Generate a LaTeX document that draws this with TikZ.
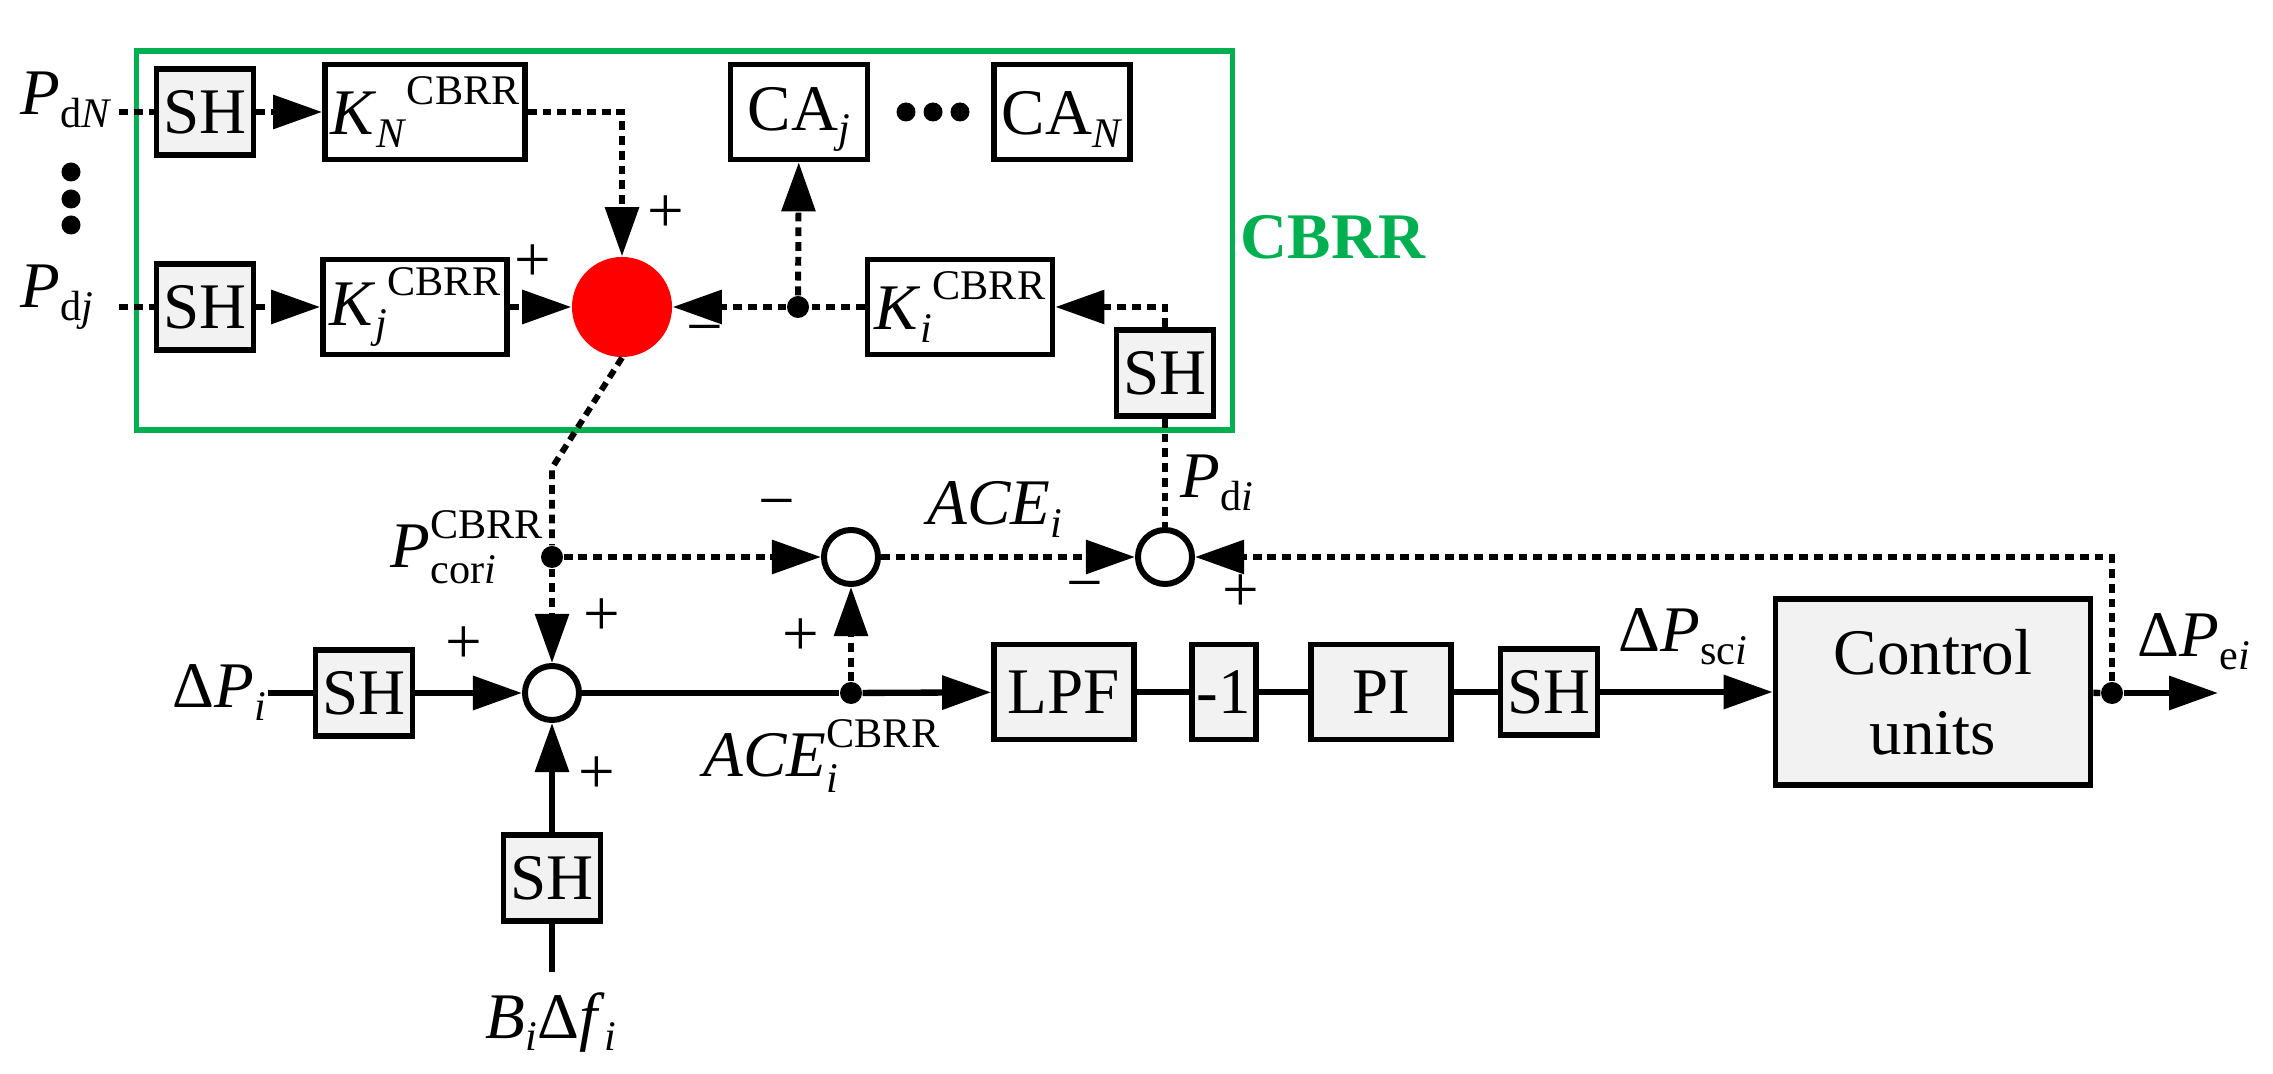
\documentclass[tikz,border=0pt]{standalone}
\usepackage{fontspec}
\setmainfont{Liberation Serif}
\usetikzlibrary{arrows.meta}
\definecolor{boxgray}{HTML}{F2F2F2}
\definecolor{cbgreen}{HTML}{00B050}
\newcommand\fs{\fontsize{18.5}{20}\selectfont}
\newcommand\sfs{\fontsize{12}{12}\selectfont}
\newcommand\Sb[1]{\raisebox{-3.5pt}{\sfs #1}}
\newcommand\Sp[1]{\raisebox{8.5pt}{\sfs #1}}
\newcommand\SbSp[2]{\rlap{\raisebox{-4.5pt}{\sfs #1}}\raisebox{8.5pt}{\sfs #2}}
\tikzset{
  every node/.style={font=\fs},
  blk/.style={draw, line width=1.6pt, inner sep=0pt, minimum height=0.95cm},
  shblk/.style={blk, fill=boxgray, minimum width=0.97cm, minimum height=0.86cm},
  gblk/.style={blk, fill=boxgray},
  sumc/.style={circle, draw, line width=1.7pt, minimum size=0.54cm, inner sep=0pt},
  jdot/.style={circle, fill, inner sep=0pt, minimum size=0.22cm},
  sdot/.style={circle, fill, inner sep=0pt, minimum size=0.19cm},
  sig/.style={inner sep=0pt},
  lbl/.style={inner sep=0pt},
  dl/.style={line width=1.7pt, dash pattern=on 2.5pt off 1.7pt},
  sl/.style={line width=1.8pt},
  tip/.style={-{Triangle[length=0.49cm,width=0.33cm]}}
}
\begin{document}
\begin{tikzpicture}[x=0.01cm,y=-0.01cm]
\useasboundingbox (0,0) rectangle (2273,1074);
% CBRR frame
\node[draw=cbgreen, line width=1.6pt, minimum width=10.95cm, minimum height=3.79cm, inner sep=0pt] (frame) at (684.5,240.5) {};
\node[text=cbgreen, font=\fs\bfseries] (cbrr) at (1333,237) {CBRR};
% top rows
\node[lbl, anchor=base west] (PdN) at (20,115) {\textit{P}\Sb{d\textit{N}}};
\node[lbl, anchor=base west] (Pdj) at (20,308) {\textit{P}\Sb{d\textit{j}}};
\node[sdot] (v1) at (71,172) {};
\node[sdot] (v2) at (71,199) {};
\node[sdot] (v3) at (71,225) {};
\coordinate (inN) at (119,112);
\coordinate (inj) at (119,307);
\node[shblk] (SHN) at (205,112) {SH};
\node[blk, minimum width=2.0cm] (KN) at (425,112) {\textit{K}\Sb{\textit{N}}\Sp{CBRR}};
\node[blk, minimum width=1.37cm] (CAj) at (799,112) {CA\Sb{\textit{j}}\vphantom{\Sp{C}}};
\node[sdot] (h1) at (906,112) {};
\node[sdot] (h2) at (933,112) {};
\node[sdot] (h3) at (960,112) {};
\node[blk, minimum width=1.36cm] (CAN) at (1062,112) {CA\Sb{\textit{N}}\vphantom{\Sp{C}}};
\node[shblk] (SHj) at (205,307) {SH};
\node[blk, minimum width=1.84cm] (Kj) at (415,307) {\textit{K}\Sb{\textit{j}}\Sp{CBRR}};
\node[circle, fill=red, minimum size=1.0cm, inner sep=0pt] (R) at (622,307) {};
\node[jdot] (J1) at (798,307) {};
\node[blk, minimum width=1.85cm] (Ki) at (960,307) {\textit{K}\Sb{\textit{i}}\Sp{CBRR}};
\node[shblk] (SHi) at (1165,373) {SH};
\node[sig] (pR1) at (666,214) {+};
\node[sig] (pR2) at (533,263) {+};
\node[sig] (mR) at (705,337) {−};
\draw[dl] (inN) -- (SHN);
\draw[dl,tip] (SHN) -- (KN);
\draw[dl,tip] (KN.east) -| (R);
\draw[dl] (inj) -- (SHj);
\draw[dl,tip] (SHj) -- (Kj);
\draw[dl,tip] (Kj) -- (R);
\draw[dl] (Ki) -- (J1);
\draw[dl,tip] (J1) -- (R);
\draw[dl,tip] (J1) -- (CAj);
\draw[dl,tip] (SHi.north) |- (Ki.east);
% lower part
\node[jdot] (Pcor) at (552,557) {};
\coordinate (bend) at (552,468);
\node[lbl, anchor=base west] (PcorL) at (390,568) {\textit{P}\SbSp{cor\textit{i}}{CBRR}};
\node[lbl, anchor=base west] (dPi) at (172,708) {Δ\textit{P}\Sb{\textit{i}}};
\coordinate (inP) at (268,693);
\node[shblk] (SH1) at (364,693) {SH};
\node[sumc] (S1) at (552,693) {};
\node[shblk] (SHb) at (552,878) {SH};
\coordinate (inB) at (552,972);
\node[lbl, anchor=base] (Bf) at (551,1038) {\textit{B}\Sb{\textit{i}}Δ\textit{f}\Sb{\textit{i}}};
\node[sumc] (S2) at (851,557) {};
\node[jdot] (J2) at (851,693) {};
\node[lbl, anchor=base west] (ACEc) at (703,777) {\textit{ACE}\SbSp{\textit{i}}{CBRR}};
\node[lbl, anchor=base west] (ACEi) at (927,525) {\textit{ACE}\Sb{\textit{i}}};
\node[sumc] (S3) at (1165,557) {};
\node[lbl, anchor=base west] (Pdi) at (1180,498) {\textit{P}\Sb{d\textit{i}}};
\node[gblk, minimum width=1.40cm] (LPF) at (1064,692) {LPF};
\node[gblk, minimum width=0.64cm] (M1) at (1224,692) {-1};
\node[gblk, minimum width=1.40cm] (PI) at (1381,692) {PI};
\node[shblk] (SH2) at (1549,692) {SH};
\node[lbl, anchor=base west] (dPsc) at (1618,652) {Δ\textit{P}\Sb{sc\textit{i}}};
\node[gblk, minimum width=3.15cm, minimum height=1.86cm, align=center, font=\fontsize{18.5}{22.8}\selectfont] (CU) at (1933,692) {Control\\units};
\node[jdot] (J3) at (2112,693) {};
\coordinate (out) at (2218,693);
\node[lbl, anchor=base west] (dPe) at (2137,657) {Δ\textit{P}\Sb{e\textit{i}}};
% signs
\node[sig] (p1) at (602,617) {+};
\node[sig] (p2) at (464,645) {+};
\node[sig] (p3) at (597,775) {+};
\node[sig] (m2) at (777,511) {−};
\node[sig] (p4) at (801,637) {+};
\node[sig] (m3) at (1085,593) {−};
\node[sig] (p5) at (1241,593) {+};
% connectors
\draw[dl] (R.south) -- (bend) -- (Pcor);
\draw[dl,tip] (Pcor) -- (S1);
\draw[dl,tip] (Pcor) -- (S2);
\draw[sl] (inP) -- (SH1);
\draw[sl,tip] (SH1) -- (S1);
\draw[sl] (inB) -- (SHb);
\draw[sl,tip] (SHb) -- (S1);
\draw[sl] (S1) -- (J2);
\draw[sl,tip] (J2) -- (LPF);
\draw[dl,tip] (J2) -- (S2);
\draw[dl,tip] (S2) -- (S3);
\draw[dl] (SHi) -- (S3);
\draw[sl] (LPF) -- (M1);
\draw[sl] (M1) -- (PI);
\draw[sl] (PI) -- (SH2);
\draw[sl,tip] (SH2) -- (CU);
\draw[sl] (CU) -- (J3);
\draw[sl,tip] (J3) -- (out);
\draw[dl,tip] (J3) |- (S3);
\end{tikzpicture}
\end{document}
